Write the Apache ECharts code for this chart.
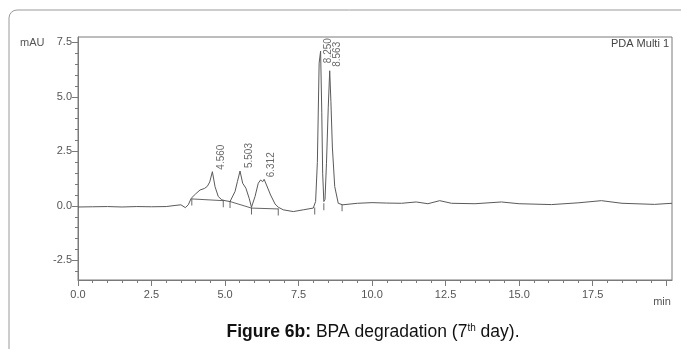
<!DOCTYPE html>
<html>
<head>
<meta charset="utf-8">
<script src="https://cdn.jsdelivr.net/npm/echarts@6/dist/echarts.min.js"></script>
<style>
  html, body { margin: 0; background: #fff; }
  #chart { width: 681px; height: 349px; }
</style>
</head>
<body>
<div id="chart"></div>
<script>
// chromatogram trace (min, mAU)
const traceTime = [0.0, 0.5, 1.0, 1.5, 2.0, 2.5, 3.0, 3.3, 3.5, 3.65, 3.75, 3.85, 4.0, 4.15, 4.3, 4.4, 4.48, 4.57, 4.66, 4.77, 4.89, 5.0, 5.17, 5.34, 5.42, 5.51, 5.6, 5.71, 5.82, 5.9, 6.02, 6.13, 6.21, 6.28, 6.33, 6.41, 6.55, 6.7, 6.81, 6.98, 7.32, 7.66, 8.0, 8.08, 8.14, 8.2, 8.25, 8.29, 8.32, 8.36, 8.4, 8.45, 8.51, 8.56, 8.6, 8.65, 8.73, 8.85, 9.0, 9.5, 10.0, 10.5, 11.0, 11.5, 11.9, 12.3, 12.7, 13.5, 14.4, 15.0, 16.1, 17.0, 17.8, 18.5, 19.6, 20.2];
const traceSignal = [-0.05, -0.04, -0.03, -0.05, -0.03, -0.04, -0.03, 0.02, 0.05, -0.08, 0.05, 0.35, 0.55, 0.73, 0.8, 0.9, 1.1, 1.57, 0.88, 0.43, 0.28, 0.24, 0.2, 0.66, 1.11, 1.6, 1.04, 0.81, 0.35, -0.06, 0.43, 1.04, 1.19, 1.11, 1.22, 0.96, 0.5, 0.09, -0.06, -0.18, -0.26, -0.18, -0.1, 0.2, 2.0, 6.55, 7.1, 4.3, 1.5, 0.2, 0.3, 1.96, 4.5, 6.2, 4.8, 2.7, 0.89, 0.12, 0.05, 0.12, 0.15, 0.13, 0.12, 0.18, 0.1, 0.24, 0.12, 0.1, 0.18, 0.1, 0.06, 0.14, 0.24, 0.12, 0.07, 0.12];

// labelled peaks
const peakTimes = [4.56, 5.503, 6.312, 8.25, 8.563];
const peakHeights = [1.57, 1.6, 1.22, 7.1, 6.2];

// integration baselines and their drop marks
const baseStart = [[3.87, 0.32], [5.17, 0.2], [5.9, -0.1]];
const baseEnd = [[4.94, 0.24], [5.9, -0.1], [6.81, -0.14]];
const markTimes = [3.87, 4.94, 5.17, 5.9, 6.81, 8.05, 8.36, 8.98];
const markLevels = [0.32, 0.24, 0.2, -0.1, -0.14, -0.1, 0.1, 0.05];

// axis ticks
const xLabels = [0, 2.5, 5, 7.5, 10, 12.5, 15, 17.5];
const xMajorTicks = [0, 2.5, 5, 7.5, 10, 12.5, 15, 17.5, 20];
const xMinorTicks = [0, 0.5, 1, 1.5, 2, 2.5, 3, 3.5, 4, 4.5, 5, 5.5, 6, 6.5, 7, 7.5, 8, 8.5, 9, 9.5, 10, 10.5, 11, 11.5, 12, 12.5, 13, 13.5, 14, 14.5, 15, 15.5, 16, 16.5, 17, 17.5, 18, 18.5, 19, 19.5, 20];
const yLabels = [-2.5, 0, 2.5, 5, 7.5];
const yMinorTicks = [-3, -2.5, -2, -1.5, -1, -0.5, 0, 0.5, 1, 1.5, 2, 2.5, 3, 3.5, 4, 4.5, 5, 5.5, 6, 6.5, 7, 7.5];

const axisGray = "#7a7a7a";
const textGray = "#555";
const font = "Liberation Sans";
const X_MIN = 0, X_MAX = 20.2, Y_MIN = -3.4, Y_MAX = 7.75;

// nudges for the rotated peak labels (in the label's rotated frame: [up, right])
const peakLabelOffset = [[2, 9], [3, 9], [2, 8], [-12, 8], [4, 7]];

const chart = echarts.init(document.getElementById("chart"), null, { renderer: "canvas" });

const tickAxis = (ticks, len) => ({
  show: true,
  customValues: ticks,
  length: len,
  lineStyle: { color: axisGray, width: 1 },
});

chart.setOption({
  animation: false,
  backgroundColor: "#fff",
  grid: {
    left: 78, right: 9, top: 37, bottom: 69,
    show: true, borderColor: axisGray, borderWidth: 1,
  },
  xAxis: [
    {
      type: "value", min: X_MIN, max: X_MAX,
      axisLine: { show: true, onZero: false, lineStyle: { color: axisGray } },
      axisTick: tickAxis(xMinorTicks, 3),
      axisLabel: {
        customValues: xLabels,
        formatter: (v) => v.toFixed(1),
        color: textGray, fontSize: 11, fontFamily: font, margin: 9,
      },
      splitLine: { show: false },
    },
    {
      type: "value", min: X_MIN, max: X_MAX, position: "bottom",
      axisLine: { show: false, onZero: false },
      axisTick: tickAxis(xMajorTicks, 6),
      axisLabel: { show: false },
      splitLine: { show: false },
    },
  ],
  yAxis: [
    {
      type: "value", min: Y_MIN, max: Y_MAX,
      axisLine: { show: true, onZero: false, lineStyle: { color: axisGray } },
      axisTick: tickAxis(yMinorTicks, 3),
      axisLabel: {
        customValues: yLabels,
        formatter: (v) => v.toFixed(1),
        color: textGray, fontSize: 11, fontFamily: font, margin: 6,
      },
      splitLine: { show: false },
    },
    {
      type: "value", min: Y_MIN, max: Y_MAX, position: "left",
      axisLine: { show: false, onZero: false },
      axisTick: tickAxis(yLabels, 6),
      axisLabel: { show: false },
      splitLine: { show: false },
    },
  ],
  series: [
    {
      type: "line",
      data: traceTime.map((t, i) => [t, traceSignal[i]]),
      showSymbol: false,
      lineStyle: { color: "#5a5a5a", width: 1 },
      z: 3,
    },
    {
      type: "lines",
      coordinateSystem: "cartesian2d",
      data: baseStart.map((p, i) => ({ coords: [p, baseEnd[i]] })),
      lineStyle: { color: "#666", width: 1, opacity: 1 },
      z: 2,
    },
    {
      type: "scatter",
      data: markTimes.map((t, i) => [t, markLevels[i]]),
      symbol: "rect",
      symbolSize: [1, 7],
      symbolOffset: [0, 3],
      itemStyle: { color: "#444" },
      z: 4,
    },
    {
      type: "scatter",
      data: peakTimes.map((t, i) => ({
        value: [t, peakHeights[i]],
        label: { offset: peakLabelOffset[i] },
      })),
      symbolSize: 1,
      itemStyle: { color: "rgba(0,0,0,0)" },
      label: {
        show: true,
        position: "inside",
        rotate: 90,
        align: "left",
        verticalAlign: "middle",
        formatter: (p) => p.value[0].toFixed(3),
        color: "#444",
        fontSize: 10,
        fontFamily: font,
      },
      z: 5,
    },
  ],
  graphic: [
    {
      type: "rect",
      shape: { x: 9, y: 10, width: 720, height: 400, r: 8 },
      style: { fill: "none", stroke: "#9a9a9a", lineWidth: 1 },
      silent: true,
    },
    {
      type: "text",
      style: { text: "mAU", x: 20, y: 43, fill: textGray, font: "11px " + font, verticalAlign: "middle" },
    },
    {
      type: "text",
      style: { text: "min", x: 662, y: 302, fill: textGray, font: "11px " + font, align: "center", verticalAlign: "middle" },
    },
    {
      type: "text",
      style: { text: "PDA Multi 1", x: 669, y: 44, fill: "#444", font: "11px " + font, align: "right", verticalAlign: "middle" },
    },
    {
      type: "text",
      style: {
        text: "{b|Figure 6b:} BPA degradation (7{sup|th} day).",
        x: 373, y: 332,
        align: "center", verticalAlign: "middle",
        fill: "#111", font: "17.5px " + font,
        rich: {
          b: { fontWeight: "bold", fontSize: 17.5, fontFamily: font, fill: "#111" },
          sup: { fontSize: 10, fontFamily: font, verticalAlign: "top", fill: "#111" },
        },
      },
    },
  ],
});
</script>
</body>
</html>
